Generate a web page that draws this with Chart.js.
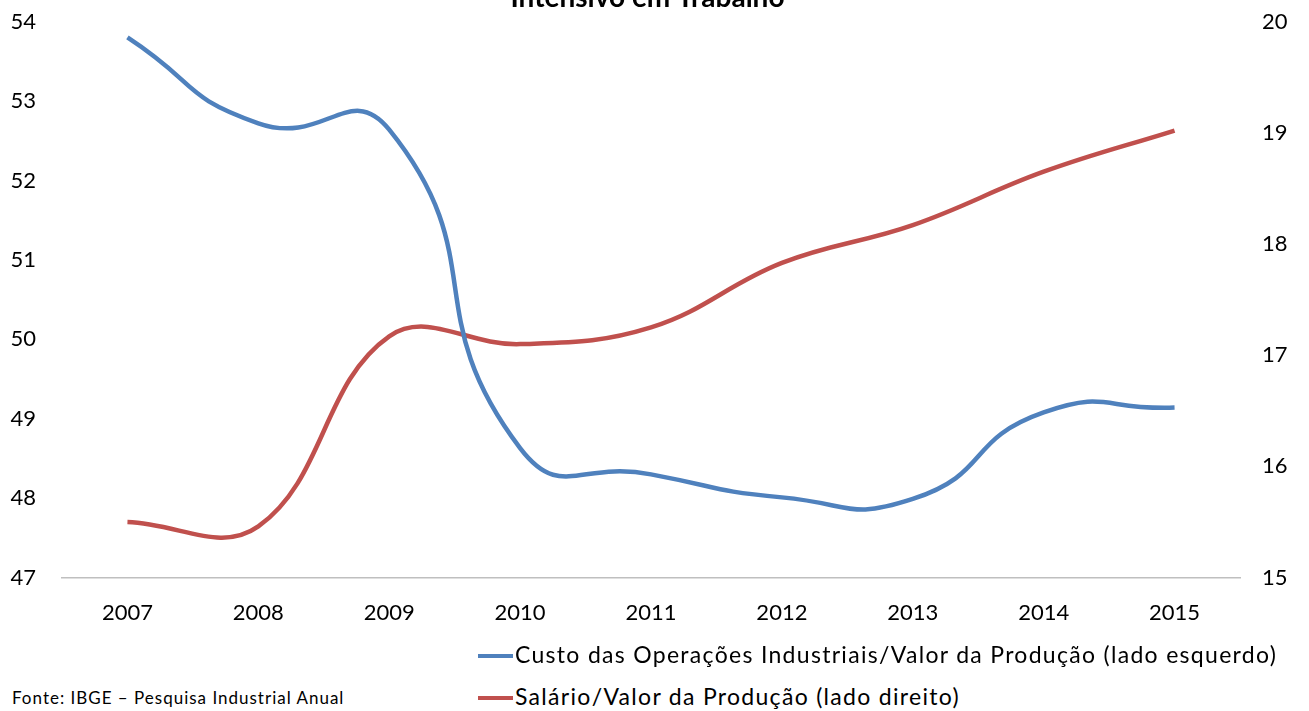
<!DOCTYPE html>
<html>
<head>
<meta charset="utf-8">
<script src="https://cdn.jsdelivr.net/npm/chart.js@4/dist/chart.umd.min.js"></script>
<style>
  html, body { margin: 0; padding: 0; background: #fff; overflow: hidden; }
  #wrap { position: relative; width: 1309px; height: 711px; overflow: hidden; font-family: Lato, "Noto Sans", sans-serif; }
  #wrap canvas { position: absolute; left: 0; top: -19px; }
  .legenda { position: absolute; left: 478px; font-size: 23px; letter-spacing: 1.3px; color: #000; white-space: nowrap; }
  .legenda span { display: inline-block; width: 35px; height: 4px; vertical-align: middle; margin-right: 2px; position: relative; top: -1px; }
  #fonte { position: absolute; left: 12px; top: 687px; font-size: 17px; letter-spacing: 1px; color: #000; }
</style>
</head>
<body>
<div id="wrap">
  <canvas id="grafico" width="1309" height="667"></canvas>
  <div class="legenda" style="top:640px"><span style="background:#4F81BD"></span>Custo das Operações Industriais/Valor da Produção (lado esquerdo)</div>
  <div class="legenda" style="top:682px"><span style="background:#C0504D"></span>Salário/Valor da Produção (lado direito)</div>
  <div id="fonte">Fonte: IBGE – Pesquisa Industrial Anual</div>
</div>
<script>
// Dados
const anos = ['2007', '2008', '2009', '2010', '2011', '2012', '2013', '2014', '2015'];
const custoOperacoes = [53.8, 52.72, 52.64, 48.63, 48.3, 48.01, 47.99, 49.08, 49.14];
const salario = [15.5, 15.46, 17.17, 17.1, 17.25, 17.83, 18.17, 18.65, 19.02];
const ticksEsquerda = [47, 48, 49, 50, 51, 52, 53, 54];
const ticksDireita = [15, 16, 17, 18, 19, 20];

const fonteTicks = { family: 'Lato, "Noto Sans", sans-serif', size: 22 };

const ctx = document.getElementById('grafico').getContext('2d');

new Chart(ctx, {
    type: 'line',
    data: {
        labels: anos,
        datasets: [{
            label: 'Custo das Operações Industriais/Valor da Produção (lado esquerdo)',
            data: custoOperacoes,
            yAxisID: 'yEsq',
            borderColor: '#4F81BD',
            borderWidth: 4.5,
            pointRadius: 0,
            tension: 0.55,
            fill: false
        }, {
            label: 'Salário/Valor da Produção (lado direito)',
            data: salario,
            yAxisID: 'yDir',
            borderColor: '#C0504D',
            borderWidth: 4.5,
            pointRadius: 0,
            tension: 0.4,
            fill: false
        }]
    },
    options: {
        responsive: false,
        animation: false,
        layout: { padding: { left: 8, right: 22, top: 0, bottom: 0 } },
        plugins: {
            legend: { display: false },
            tooltip: { enabled: false },
            title: {
                display: true,
                text: 'Intensivo em Trabalho',
                color: '#000',
                font: { family: 'Lato, "Noto Sans", sans-serif', size: 28, weight: 'bold' },
                padding: { top: 0, bottom: 7 }
            }
        },
        scales: {
            x: {
                offset: true,
                grid: { display: false, drawTicks: false },
                border: { display: true, color: '#BFBFBF', width: 1.5 },
                ticks: { color: '#000', font: fonteTicks, padding: 22, maxRotation: 0 }
            },
            yEsq: {
                position: 'left',
                min: 47,
                max: 54,
                afterBuildTicks: (s) => { s.ticks = ticksEsquerda.map(v => ({ value: v })); },
                afterFit: (s) => { s.width = 54; },
                grid: { display: false, drawTicks: false },
                border: { display: false },
                ticks: { color: '#000', font: fonteTicks, padding: 26 }
            },
            yDir: {
                position: 'right',
                min: 15,
                max: 20,
                afterBuildTicks: (s) => { s.ticks = ticksDireita.map(v => ({ value: v })); },
                afterFit: (s) => { s.width = 47; },
                grid: { display: false, drawTicks: false },
                border: { display: false },
                ticks: { color: '#000', font: fonteTicks, padding: 22 }
            }
        }
    }
});
</script>
</body>
</html>
